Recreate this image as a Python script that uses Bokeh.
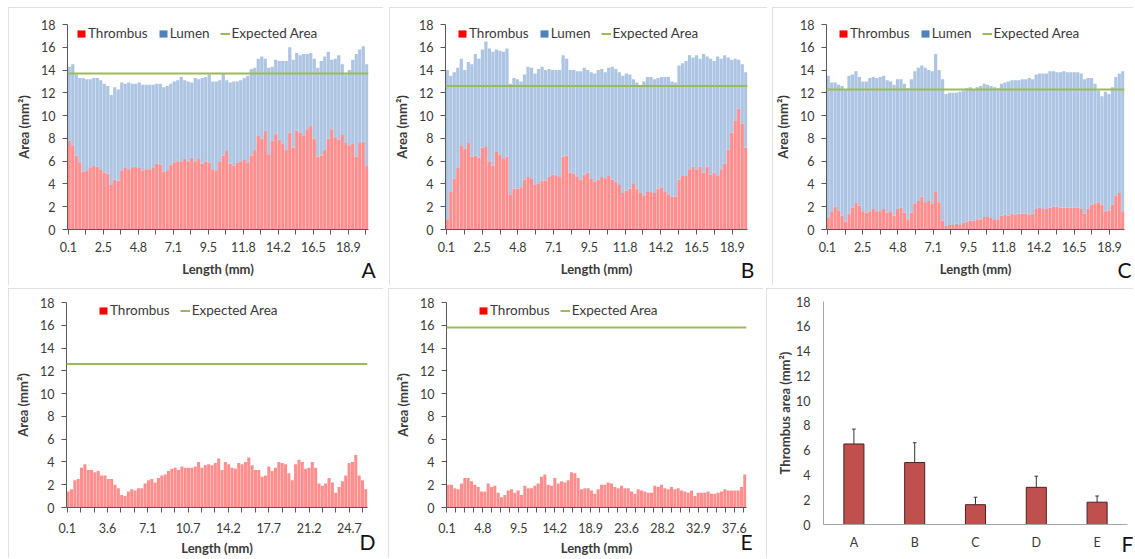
from bokeh.plotting import figure
from bokeh.models import (FixedTicker, Span, Legend, LegendItem, ColumnDataSource,
                          LinearAxis, Spacer)
from bokeh.layouts import row, column
from bokeh.embed import file_html
from bokeh.resources import INLINE

# ---------------- data ----------------
A_thrombus = [7.8, 7.4, 6.5, 5.9, 5.1, 5.2, 5.4, 5.6, 5.5, 5.3,
              5.0, 4.9, 3.9, 4.4, 4.3, 5.2, 5.4, 5.3, 5.4, 5.5,
              5.4, 5.2, 5.3, 5.3, 5.4, 5.8, 5.7, 5.1, 5.2, 5.7,
              5.9, 6.0, 6.0, 6.2, 6.0, 6.3, 6.0, 6.2, 5.8, 6.0,
              5.9, 5.3, 5.2, 6.0, 6.5, 6.9, 5.8, 5.6, 5.9, 6.0,
              6.1, 5.9, 6.5, 7.0, 8.2, 8.0, 8.7, 6.6, 7.8, 8.4,
              7.9, 7.5, 7.0, 8.5, 7.2, 8.7, 8.5, 8.2, 8.8, 9.1,
              8.0, 6.4, 6.5, 7.0, 8.0, 8.8, 8.1, 7.9, 8.3, 7.6,
              7.4, 7.5, 6.4, 7.6, 7.7, 5.6]
A_total = [14.3, 14.5, 13.6, 13.3, 13.3, 13.2, 13.2, 13.3, 13.3, 13.1,
           12.8, 12.6, 11.8, 12.5, 12.3, 12.9, 12.8, 12.9, 12.8, 12.8,
           12.9, 12.7, 12.7, 12.7, 12.7, 12.8, 12.8, 12.5, 12.6, 12.8,
           13.0, 13.1, 13.4, 13.1, 13.0, 12.9, 13.3, 13.2, 13.3, 13.4,
           13.6, 13.0, 13.0, 13.1, 13.7, 13.1, 12.9, 13.0, 13.0, 13.1,
           13.3, 13.5, 14.1, 14.2, 15.0, 15.2, 15.0, 14.2, 14.3, 14.9,
           14.8, 14.8, 14.8, 16.0, 14.9, 15.5, 15.3, 15.4, 15.4, 15.5,
           15.0, 14.2, 14.8, 15.2, 15.6, 14.9, 15.0, 15.3, 14.5, 13.6,
           14.0, 14.9, 15.4, 15.8, 16.1, 14.5]
A_expected = 13.7

B_thrombus = [0.9, 3.3, 4.5, 5.4, 7.4, 7.1, 7.6, 6.4, 6.5, 6.3,
              7.2, 7.3, 6.0, 5.6, 6.8, 6.6, 6.2, 6.4, 3.1, 3.6,
              3.6, 3.7, 4.4, 4.6, 4.5, 3.9, 4.0, 4.3, 4.3, 4.6,
              4.8, 4.7, 4.6, 6.4, 6.5, 5.0, 4.9, 4.6, 4.4, 4.8,
              5.0, 4.5, 4.2, 4.4, 4.6, 4.5, 4.7, 4.4, 4.2, 3.9,
              3.2, 3.4, 3.6, 4.0, 3.6, 3.2, 3.0, 3.3, 3.3, 3.2,
              3.6, 3.7, 3.3, 3.1, 2.9, 2.9, 4.4, 4.7, 4.7, 5.3,
              5.5, 5.3, 5.5, 5.0, 5.5, 4.8, 5.0, 4.7, 5.3, 5.8,
              7.0, 8.5, 9.6, 10.6, 9.3, 7.2]
B_total = [14.0, 13.5, 13.8, 14.2, 15.0, 14.0, 14.7, 14.5, 15.4, 15.0,
           15.8, 16.5, 15.9, 15.6, 15.8, 15.7, 15.6, 15.9, 12.8, 13.3,
           13.2, 13.0, 13.6, 14.3, 14.2, 13.7, 14.1, 14.3, 14.0, 14.1,
           14.0, 14.0, 14.0, 15.3, 15.0, 14.0, 14.0, 13.9, 13.9, 14.2,
           14.0, 13.8, 13.7, 14.0, 14.1, 13.8, 14.2, 14.3, 14.1, 13.8,
           13.5, 13.7, 13.6, 13.2, 12.9, 12.6, 13.0, 13.4, 13.4, 13.2,
           13.3, 13.4, 13.4, 13.4, 13.0, 12.9, 14.4, 14.6, 14.8, 15.3,
           15.1, 15.3, 15.0, 15.4, 15.2, 15.0, 14.8, 15.2, 15.0, 15.3,
           15.1, 14.9, 15.0, 14.9, 14.5, 13.8]
B_expected = 12.6

C_thrombus = [1.0, 1.6, 2.0, 1.7, 1.2, 0.7, 1.4, 1.9, 2.4, 2.1,
              1.6, 1.5, 1.6, 1.8, 1.6, 1.7, 1.8, 1.5, 1.6, 1.2,
              1.8, 1.9, 1.5, 0.9, 1.5, 2.3, 2.5, 2.9, 2.4, 2.5,
              2.3, 3.3, 2.4, 0.8, 0.3, 0.4, 0.4, 0.5, 0.4, 0.6,
              0.7, 0.8, 0.8, 0.9, 0.9, 1.1, 1.1, 1.0, 0.9, 0.9,
              1.2, 1.3, 1.2, 1.4, 1.3, 1.4, 1.4, 1.4, 1.3, 1.4,
              1.8, 1.9, 1.8, 1.8, 1.9, 2.0, 2.0, 1.9, 1.9, 1.9,
              1.9, 1.9, 1.9, 1.8, 1.4, 1.8, 2.2, 2.3, 2.4, 2.2,
              1.6, 1.7, 2.2, 3.0, 3.2, 1.6]
C_total = [13.5, 12.9, 12.9, 12.7, 12.6, 12.3, 13.5, 13.6, 13.9, 13.4,
           13.0, 13.0, 13.3, 13.4, 13.3, 13.4, 13.5, 13.1, 13.0, 12.7,
           13.2, 13.2, 12.8, 12.4, 13.2, 13.9, 14.2, 14.4, 14.2, 14.0,
           13.9, 15.4, 14.0, 13.2, 11.9, 12.0, 12.0, 12.0, 12.1, 12.2,
           12.4, 12.5, 12.3, 12.5, 12.6, 12.8, 12.7, 12.6, 12.5, 12.4,
           12.8, 12.9, 13.0, 13.1, 13.1, 13.1, 13.2, 13.2, 13.3, 13.2,
           13.6, 13.7, 13.7, 13.7, 13.9, 13.9, 13.8, 13.8, 13.9, 13.8,
           13.8, 13.8, 13.8, 13.7, 13.2, 13.3, 13.3, 12.8, 12.2, 11.7,
           12.1, 11.9, 12.5, 13.4, 13.7, 13.9]
C_expected = 12.3

D_thrombus = [1.4, 1.6, 2.4, 2.5, 3.5, 3.8, 3.3, 3.3, 3.1, 3.2,
              2.8, 2.8, 2.5, 2.5, 2.0, 1.7, 1.1, 1.0, 1.4, 1.6,
              1.5, 1.7, 1.7, 2.1, 2.4, 2.5, 2.2, 2.6, 2.8, 2.9,
              3.2, 3.4, 3.5, 3.3, 3.6, 3.5, 3.5, 3.5, 3.6, 4.0,
              3.5, 3.7, 3.8, 3.7, 3.9, 4.3, 3.3, 4.0, 3.8, 3.5,
              3.4, 3.9, 3.8, 4.0, 4.4, 3.7, 3.3, 3.3, 2.7, 2.8,
              3.6, 3.2, 3.5, 4.0, 3.9, 3.8, 3.0, 2.4, 3.8, 4.2,
              4.0, 3.4, 3.5, 4.0, 3.5, 2.1, 1.9, 2.1, 2.6, 2.2,
              1.3, 1.8, 2.3, 2.8, 3.9, 4.0, 4.6, 2.8, 2.4, 1.6]
D_expected = 12.6

E_thrombus = [2.0, 2.0, 1.7, 1.6, 2.1, 2.6, 2.6, 2.3, 2.0, 1.8,
              1.4, 1.4, 2.1, 1.8, 1.9, 1.3, 0.9, 1.1, 1.5, 1.6,
              1.3, 1.5, 1.1, 1.9, 1.7, 1.7, 1.9, 2.1, 2.7, 2.9,
              2.0, 1.9, 2.6, 2.1, 2.3, 2.2, 2.4, 3.1, 3.0, 2.6,
              1.6, 1.7, 1.7, 1.5, 1.2, 1.6, 2.0, 2.0, 2.2, 2.1,
              1.8, 1.7, 1.9, 1.7, 1.7, 1.4, 1.2, 1.6, 1.5, 1.4,
              1.3, 1.3, 1.9, 1.8, 2.0, 1.7, 1.6, 1.8, 1.6, 1.7,
              1.5, 1.4, 1.3, 1.5, 1.0, 1.3, 1.3, 1.3, 1.4, 1.2,
              1.2, 1.3, 1.4, 1.6, 1.5, 1.5, 1.5, 1.5, 1.8, 2.9]
E_expected = 15.8

ticks_ABC = ["0.1", "2.5", "4.8", "7.1", "9.5", "11.8", "14.2", "16.5", "18.9"]
ticks_D = ["0.1", "3.6", "7.1", "10.7", "14.2", "17.7", "21.2", "24.7"]
ticks_E = ["0.1", "4.8", "9.5", "14.2", "18.9", "23.6", "28.2", "32.9", "37.6"]

F_groups = ["A", "B", "C", "D", "E"]
F_mean = [6.5, 5.0, 1.6, 3.0, 1.8]
F_err = [1.2, 1.6, 0.6, 0.9, 0.5]

# ---------------- styling ----------------
FONT = "Lato"
TXT = "#3a3a3a"
AXIS = "#595959"
RED_LIGHT = "#ff8f8f"
RED = "#ff0000"
BLUE_LIGHT = "#adc5e3"
BLUE = "#4f81bd"
GREEN = "#9bbb59"
BORDER = {"outline": "1px solid #d9d9d9", "outline-offset": "-1px"}


def base_fig(width, height, ml, mr, mt, mb, x_range):
    p = figure(width=width, height=height, x_range=x_range, y_range=(0, 18),
               output_backend="svg", toolbar_location=None,
               min_border_left=ml, min_border_right=mr,
               min_border_top=mt, min_border_bottom=mb)
    p.outline_line_color = None
    p.grid.visible = False
    p.background_fill_color = "white"
    p.border_fill_color = "white"
    p.styles = BORDER
    p.yaxis.ticker = FixedTicker(ticks=list(range(0, 19, 2)))
    for ax in (p.xaxis, p.yaxis):
        ax.axis_line_color = AXIS
        ax.major_tick_line_color = AXIS
        ax.minor_tick_line_color = None
        ax.major_tick_in = 0
        ax.major_tick_out = 5
        ax.major_label_text_font = FONT
        ax.major_label_text_font_size = "12.5px"
        ax.major_label_text_color = TXT
        ax.axis_label_text_font = FONT
        ax.axis_label_text_font_size = "13px"
        ax.axis_label_text_font_style = "bold"
        ax.axis_label_text_color = TXT
    p.yaxis.major_label_standoff = 7
    p.yaxis.axis_label_standoff = 6
    return p


def add_letter(p, letter, x_end, standoff):
    """Panel letter drawn as the single tick label of an extra, invisible x axis."""
    ax = LinearAxis(ticker=FixedTicker(ticks=[x_end]),
                    major_label_overrides={x_end: letter})
    ax.axis_line_color = None
    ax.major_tick_line_color = None
    ax.minor_tick_line_color = None
    ax.major_tick_in = 0
    ax.major_tick_out = 0
    ax.major_label_standoff = standoff
    ax.major_label_text_font = FONT
    ax.major_label_text_font_size = "21px"
    ax.major_label_text_color = "#111111"
    p.add_layout(ax, "below")


def length_panel(width, height, ml, mr, mt, mb, n_cat, thromb, total, expected,
                 tick_labels, label_every, leg_x, letter, letter_standoff,
                 xs1, xs2):
    p = base_fig(width, height, ml, mr, mt, mb, (-0.5, n_cat - 0.5))
    step = n_cat / len(thromb)
    xs = [(j + 0.5) * step - 0.5 for j in range(len(thromb))]
    data = dict(x=xs, t=thromb)
    if total is not None:
        data["tot"] = total
    src = ColumnDataSource(data)
    p.vbar(x="x", width=step * 0.92, bottom=0, top="t", source=src,
           fill_color=RED_LIGHT, line_color=None)
    if total is not None:
        p.vbar(x="x", width=step * 0.92, bottom="t", top="tot", source=src,
               fill_color=BLUE_LIGHT, line_color=None)
    p.add_layout(Span(location=expected, dimension="width",
                      line_color=GREEN, line_width=2))

    # legend keys: off-screen renderers carrying the saturated key colours
    off = -10 * n_cat
    r_t = p.vbar(x=[off], top=[1], width=1, fill_color=RED, line_color=None)
    items = [LegendItem(label="Thrombus", renderers=[r_t])]
    if total is not None:
        r_l = p.vbar(x=[off], top=[1], width=1, fill_color=BLUE, line_color=None)
        items.append(LegendItem(label="Lumen", renderers=[r_l]))
    r_e = p.line(x=[off, off - 1], y=[1, 1], line_color=GREEN, line_width=2)
    items.append(LegendItem(label="Expected Area", renderers=[r_e]))
    frame_h = height - mt - mb
    leg = Legend(items=items, location=(leg_x, frame_h - 17), orientation="horizontal",
                 background_fill_alpha=0, border_line_color=None,
                 padding=0, margin=0, spacing=10, label_standoff=2,
                 glyph_width=10, glyph_height=9, label_height=14,
                 label_text_font=FONT, label_text_font_size="13.5px",
                 label_text_color=TXT)
    p.add_layout(leg)

    ticks = list(range(0, n_cat, 10))
    p.xaxis.ticker = FixedTicker(ticks=ticks)
    over = {}
    for t in ticks:
        k = t // label_every
        over[t] = tick_labels[k] if (t % label_every == 0 and k < len(tick_labels)) else ""
    p.xaxis.major_label_overrides = over
    p.xaxis.major_label_standoff = xs1
    p.xaxis.axis_label_standoff = xs2
    p.xaxis.axis_label = "Length (mm)"
    p.yaxis.axis_label = "Area (mm²)"

    add_letter(p, letter, n_cat - 0.5, letter_standoff)
    return p


pA = length_panel(375, 278, 59, 15, 17, 56, 172, A_thrombus, A_total, A_expected,
                  ticks_ABC, 20, 9, "A", -23, 7, 6)
pB = length_panel(378, 278, 56, 20, 17, 56, 169, B_thrombus, B_total, B_expected,
                  ticks_ABC, 20, 12, "B", -23, 7, 6)
pC = length_panel(361, 278, 53, 9, 17, 56, 169, C_thrombus, C_total, C_expected,
                  ticks_ABC, 20, 12, "C", -23, 7, 6)
pD = length_panel(375, 270, 58, 16, 14, 50, 224, D_thrombus, None, D_expected,
                  ticks_D, 30, 32, "D", -30, 10, 4)
pE = length_panel(375, 270, 58, 17, 14, 50, 334, E_thrombus, None, E_expected,
                  ticks_E, 40, 32, "E", -30, 10, 4)

# ---------------- panel F ----------------
pF = base_fig(367, 270, 57, 6, 13, 30, (-0.5, len(F_groups) - 0.5))
idx = list(range(len(F_groups)))
top_err = [m + e for m, e in zip(F_mean, F_err)]
pF.vbar(x=idx, top=F_mean, bottom=0, width=0.33, fill_color="#c0504d",
        line_color="#4a2220", line_width=1)
pF.segment(x0=idx, y0=F_mean, x1=idx, y1=top_err, line_color="#333333", line_width=1)
pF.segment(x0=[i - 0.03 for i in idx], y0=top_err, x1=[i + 0.03 for i in idx],
           y1=top_err, line_color="#333333", line_width=1)
pF.xaxis.ticker = FixedTicker(ticks=idx)
pF.xaxis.major_label_overrides = {i: g for i, g in zip(idx, F_groups)}
for ax in (pF.xaxis, pF.yaxis):
    ax.axis_line_color = "#a6a6a6"
    ax.major_tick_out = 0
pF.xaxis.major_label_standoff = 10
pF.yaxis.major_label_standoff = 13
pF.yaxis.axis_label_standoff = 0
pF.yaxis.axis_label = "Thrombus area (mm²)"
add_letter(pF, "F", len(F_groups) - 0.5, -22)

top_row = row(Spacer(width=8), pA, Spacer(width=6), pB, Spacer(width=5), pC)
bottom_row = row(Spacer(width=8), pD, Spacer(width=5), pE, Spacer(width=3), column(pF))
layout = column(Spacer(height=7), top_row, Spacer(height=3), bottom_row)
open("out.html", "w").write(file_html(layout, INLINE))
